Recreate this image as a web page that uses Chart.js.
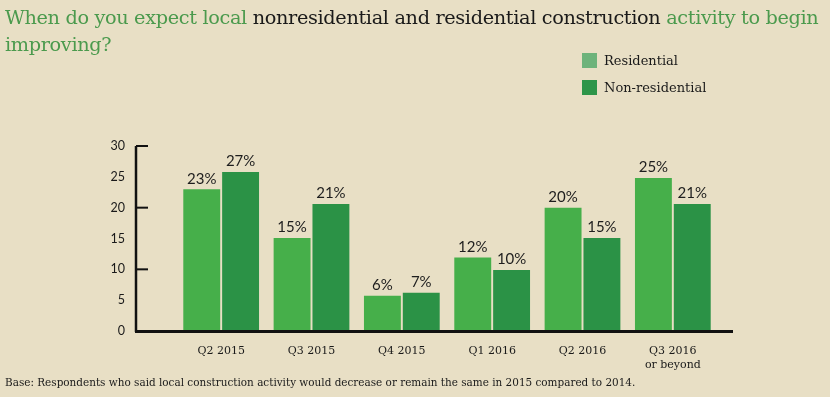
<!DOCTYPE html>
<html>
<head>
<meta charset="utf-8">
<script src="https://cdn.jsdelivr.net/npm/chart.js@4/dist/chart.umd.min.js"></script>
<style>
  html, body { margin: 0; padding: 0; background: #e8dfc5; }
  #wrap { position: relative; width: 830px; height: 397px; overflow: hidden; }
  #chart { position: absolute; left: 0; top: 0; }
  .title { position: absolute; left: 5px; top: 4px; width: 830px; font-family: "DejaVu Serif", serif; font-size: 19.3px; line-height: 27px; color: #1a1a1a; letter-spacing: -0.35px; }
  .title .g { color: #4b9a4d; }
  .legend { position: absolute; left: 582px; top: 53px; font-family: "DejaVu Serif", serif; font-size: 13px; color: #1a1a1a; }
  .legend div { height: 27px; display: flex; align-items: flex-start; }
  .legend span.box { display: inline-block; width: 15px; height: 15px; margin-right: 7px; }
  .note { position: absolute; left: 5px; top: 376px; font-family: "DejaVu Serif", serif; font-size: 10.45px; color: #1a1a1a; }
</style>
</head>
<body>
<div id="wrap">
  <canvas id="chart" width="830" height="397"></canvas>
  <div class="title"><span class="g">When do you expect local</span> nonresidential and residential construction <span class="g">activity to begin improving?</span></div>
  <div class="legend">
    <div><span class="box" style="background:#6db37b"></span>Residential</div>
    <div><span class="box" style="background:#2d9549"></span>Non-residential</div>
  </div>
  <div class="note">Base: Respondents who said local construction activity would decrease or remain the same in 2015 compared to 2014.</div>
</div>
<script>
// Categories and values
const quarters = ['Q2 2015', 'Q3 2015', 'Q4 2015', 'Q1 2016', 'Q2 2016', ['Q3 2016', 'or beyond']];
const residential = [23, 15.1, 5.7, 11.9, 20, 24.8];
const nonResidential = [25.8, 20.6, 6.2, 9.9, 15.1, 20.6];
const residentialLabels = ['23%', '15%', '6%', '12%', '20%', '25%'];
const nonResidentialLabels = ['27%', '21%', '7%', '10%', '15%', '21%'];
const yTicks = [0, 5, 10, 15, 20, 25, 30];

// Draw the percent labels over the bars
const barLabels = {
  id: 'barLabels',
  afterDatasetsDraw(chart) {
    const ctx = chart.ctx;
    ctx.save();
    ctx.font = '15px Lato, "Noto Sans", sans-serif';
    ctx.fillStyle = '#1e1e1e';
    ctx.textAlign = 'center';
    ctx.textBaseline = 'bottom';
    chart.data.datasets.forEach((ds, i) => {
      chart.getDatasetMeta(i).data.forEach((bar, j) => {
        ctx.fillText(ds.labelsText[j], bar.x, bar.y - 3);
      });
    });
    ctx.restore();
  }
};

// Axis lines: y axis stands left of the first group, ticks point inward
const axisLines = {
  id: 'axisLines',
  afterDatasetsDraw(chart) {
    const ctx = chart.ctx;
    const y = chart.scales.y;
    const area = chart.chartArea;
    const axisX = area.left - 40;
    ctx.save();
    ctx.strokeStyle = '#111';
    ctx.lineWidth = 2.5;
    ctx.beginPath();
    ctx.moveTo(axisX, y.getPixelForValue(30));
    ctx.lineTo(axisX, y.getPixelForValue(0) + 1);
    ctx.stroke();
    [10, 20, 30].forEach(v => {
      const py = y.getPixelForValue(v);
      ctx.lineWidth = 2;
      ctx.beginPath();
      ctx.moveTo(axisX, py);
      ctx.lineTo(axisX + 12, py);
      ctx.stroke();
    });
    ctx.lineWidth = 3;
    ctx.beginPath();
    ctx.moveTo(axisX - 1, y.getPixelForValue(0) + 0.5);
    ctx.lineTo(area.right + 15, y.getPixelForValue(0) + 0.5);
    ctx.stroke();
    ctx.restore();
  }
};

new Chart(document.getElementById('chart'), {
  type: 'bar',
  data: {
    labels: quarters,
    datasets: [{
      label: 'Residential',
      data: residential,
      labelsText: residentialLabels,
      backgroundColor: '#46af4a'
    }, {
      label: 'Non-residential',
      data: nonResidential,
      labelsText: nonResidentialLabels,
      backgroundColor: '#2b9246'
    }]
  },
  options: {
    responsive: false,
    animation: false,
    layout: { padding: { left: 0, right: 112, top: 146, bottom: 0 } },
    categoryPercentage: 0.86,
    barPercentage: 0.95,
    plugins: {
      legend: { display: false },
      title: { display: false },
      tooltip: { enabled: false }
    },
    scales: {
      x: {
        grid: { display: false },
        border: { display: false },
        ticks: {
          font: { family: '"DejaVu Serif", serif', size: 11 },
          color: '#1a1a1a',
          padding: 6,
          maxRotation: 0
        },
        afterFit(scale) { scale.height = 66; }
      },
      y: {
        min: 0,
        max: 30,
        afterBuildTicks(scale) { scale.ticks = yTicks.map(v => ({ value: v })); },
        grid: { display: false },
        border: { display: false },
        ticks: {
          font: { family: 'Lato, "Noto Sans", sans-serif', size: 12.5 },
          color: '#1a1a1a',
          padding: 43
        },
        afterFit(scale) { scale.width = 176; }
      }
    }
  },
  plugins: [barLabels, axisLines]
});
</script>
</body>
</html>
